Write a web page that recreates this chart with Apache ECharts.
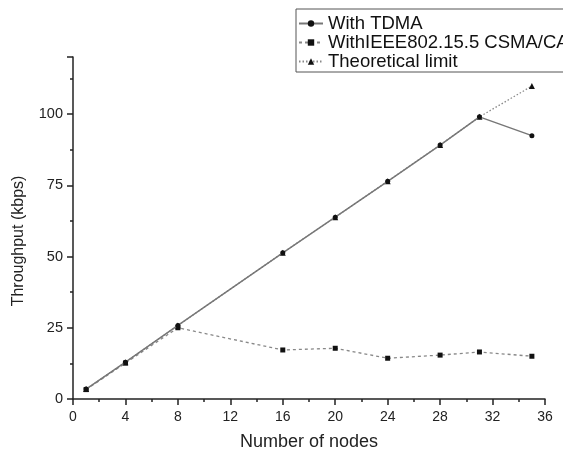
<!DOCTYPE html>
<html>
<head>
<meta charset="utf-8">
<script src="https://cdn.jsdelivr.net/npm/echarts@6/dist/echarts.min.js"></script>
<style>html,body{margin:0;padding:0;background:#fff}#c{width:563px;height:450px}</style>
</head>
<body>
<div id="c"></div>
<script>
var nodes = [1, 4, 8, 16, 20, 24, 28, 31, 35];
var tdma = [3.5, 12.9, 25.8, 51.3, 63.8, 76.4, 89.1, 99.0, 92.4];
var csma = [3.3, 12.6, 25.0, 17.2, 17.8, 14.3, 15.4, 16.5, 15.0];
var theory = [3.5, 12.9, 25.8, 51.3, 63.8, 76.4, 89.1, 99.0, 109.8];
var xTicks = [0, 4, 8, 12, 16, 20, 24, 28, 32, 36];
var yTicks = [0, 25, 50, 75, 100];

function pairs(xs, ys) { return xs.map(function (x, i) { return [x, ys[i]]; }); }

var chart = echarts.init(document.getElementById('c'), null, { renderer: 'canvas' });
var font = 'Liberation Sans, Arial, sans-serif';
chart.setOption({
  animation: false,
  backgroundColor: '#ffffff',
  textStyle: { fontFamily: font },
  grid: { left: 73, right: 18, top: 57, bottom: 51, containLabel: false, outerBoundsMode: 'none' },
  legend: {
    orient: 'vertical',
    left: 296, top: 9,
    padding: [5, 6, 1, 2],
    itemGap: 0,
    itemWidth: 24, itemHeight: 8,
    borderColor: '#555', borderWidth: 1,
    textStyle: { fontSize: 18.5, color: '#111', fontFamily: font, lineHeight: 19 },
    data: ['With TDMA', 'WithIEEE802.15.5 CSMA/CA', 'Theoretical limit']
  },
  xAxis: {
    type: 'value', min: 0, max: 36, interval: 4,
    name: 'Number of nodes', nameLocation: 'middle', nameGap: 34,
    nameTextStyle: { fontSize: 18, color: '#222' },
    axisLine: { show: true, onZero: false, lineStyle: { color: '#222', width: 1.5 } },
    axisTick: { show: true, inside: false, length: 6, lineStyle: { color: '#222', width: 1.5 } },
    minorTick: { show: true, splitNumber: 2, length: 3, lineStyle: { color: '#222', width: 1.5 } },
    axisLabel: { fontSize: 14, color: '#222', margin: 11 },
    splitLine: { show: false }
  },
  yAxis: {
    type: 'value', min: 0, max: 120, interval: 25,
    name: 'Throughput (kbps)', nameLocation: 'middle', nameGap: 46,
    nameTextStyle: { fontSize: 16, color: '#222', padding: [0, 26, 0, 0] },
    axisLine: { show: true, lineStyle: { color: '#222', width: 1.5 } },
    axisTick: { show: true, inside: false, length: 6, lineStyle: { color: '#222', width: 1.5 } },
    minorTick: { show: true, splitNumber: 2, length: 3, lineStyle: { color: '#222', width: 1.5 } },
    axisLabel: { fontSize: 14.5, color: '#222', margin: 10, formatter: function (v) { return yTicks.indexOf(v) >= 0 ? String(v) : ''; } },
    splitLine: { show: false }
  },
  series: [
    {
      name: 'Theoretical limit', type: 'line', data: pairs(nodes, theory),
      symbol: 'triangle', symbolSize: 6,
      lineStyle: { color: '#888', width: 1.3, type: [1.5, 2] },
      itemStyle: { color: '#111' }, z: 1
    },
    {
      name: 'WithIEEE802.15.5 CSMA/CA', type: 'line', data: pairs(nodes, csma),
      symbol: 'rect', symbolSize: 5,
      lineStyle: { color: '#888', width: 1.3, type: [3, 3] },
      itemStyle: { color: '#111' }, z: 2
    },
    {
      name: 'With TDMA', type: 'line', data: pairs(nodes, tdma),
      symbol: 'circle', symbolSize: 5,
      lineStyle: { color: '#777', width: 1.5 },
      itemStyle: { color: '#111' }, z: 3
    }
  ]
});
</script>
</body>
</html>
